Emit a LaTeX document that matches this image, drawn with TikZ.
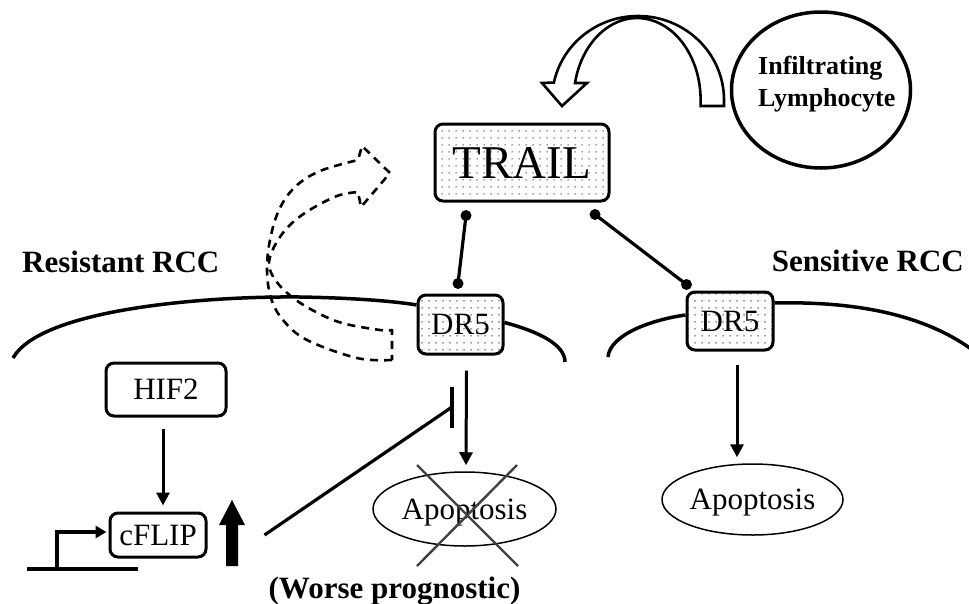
\documentclass[tikz,border=0pt]{standalone}
\usepackage{fontspec}
\setmainfont{Liberation Serif}
\usetikzlibrary{arrows.meta,patterns.meta,shapes.geometric,calc,backgrounds}
\begin{document}
\begin{tikzpicture}[x=1pt,y=-1pt,
  dotbox/.style={draw, line width=3pt, rounded corners=8pt, preaction={fill=white},
    pattern={Dots[distance=6.5pt, radius=0.8pt]}, pattern color=black!80,
    inner sep=0pt, font=\fontsize{31}{36}\selectfont},
  plainbox/.style={draw, line width=3pt, rounded corners=8pt, fill=white,
    inner sep=0pt, font=\fontsize{31}{36}\selectfont},
  apo/.style={ellipse, draw, line width=1.5pt, inner sep=0pt, text depth=0pt,
    font=\fontsize{31}{36}\selectfont},
  link/.style={line width=3.2pt},
  act/.style={line width=3pt, -{Triangle[length=13pt,width=13pt]}},
  memb/.style={line width=3.5pt},
  lbl/.style={font=\bfseries\fontsize{31}{36}\selectfont, inner sep=0pt},
  dashedarrow/.style={line width=2.6pt, dash pattern=on 8pt off 6pt, line join=round},
  cross/.style={line width=2.4pt, draw=black!75}
]
\useasboundingbox (0,0) rectangle (969,603);

% nodes
\node[dotbox, minimum width=174pt, minimum height=77pt, font=\fontsize{47}{52}\selectfont] (TRAIL) at (522,162.5) {TRAIL};
\node[dotbox, minimum width=85pt, minimum height=59pt] (DR5a) at (460.5,324.5) {DR5};
\node[dotbox, minimum width=86pt, minimum height=58pt] (DR5b) at (730,321) {DR5};
\node[plainbox, minimum width=120pt, minimum height=53pt] (HIF2) at (166,389.5) {HIF2};
\node[plainbox, minimum width=96pt, minimum height=44pt] (cFLIP) at (158,535) {cFLIP};
\node[apo, minimum width=183pt, minimum height=74pt] (apoL) at (464.5,509) {Apoptosis};
\node[apo, minimum width=181pt, minimum height=71pt] (apoR) at (752.5,499.5) {Apoptosis};
\node[ellipse, draw, line width=3.5pt, minimum width=179pt, minimum height=156pt, inner sep=0pt] (lymph) at (821,90) {};
\node[font=\bfseries\fontsize{26}{32}\selectfont, align=left, inner sep=0pt, anchor=north west] (lymphtxt) at (758,56) {Infiltrating\\Lymphocyte};

\node[lbl, anchor=base west] (resist) at (22,272) {Resistant RCC};
\node[lbl, anchor=base east] (sensit) at (964,271) {Sensitive RCC};
\node[lbl, anchor=base] (worse) at (394.5,598) {(Worse prognostic)};

% membranes
\begin{scope}[on background layer]
\draw[memb] (13,358) .. controls (40,310) and (200,296) .. (300,297)
   .. controls (360,298) and (400,302) .. ($(DR5a.west)+(0,-19.5)$);
\draw[memb] ($(DR5a.east)+(0,-2)$) .. controls (540,332) and (565,345) .. (565,362);
\draw[memb] (608,357) .. controls (610,335) and (650,320) .. ($(DR5b.west)+(0,-6)$);
\draw[memb] ($(DR5b.east)+(0,-18)$) .. controls (860,301) and (935,316) .. (985,360);
\end{scope}

% big hollow arrow from lymphocyte to TRAIL
\draw[line width=2.6pt, fill=white, line join=miter]
  (724,106) -- (724,100) arc[start angle=0, end angle=-168, x radius=86, y radius=84]
  -- (542,83) -- (562,106) -- (587,83) -- (575,83)
  arc[start angle=-168, end angle=0, x radius=63.5, y radius=82]
  -- ++(0,6) -- cycle;

% dashed hollow arrow (DR5 toward TRAIL)
\draw[dashedarrow]
  plot[smooth, tension=0.6] coordinates {(392,360) (357,358) (307,340) (283,320) (271,298) (267,270) (270,240) (279,210) (295,187) (320,171) (358,160)}
  -- (362,146) -- (390,173) -- (361,207) --
  plot[smooth, tension=0.6] coordinates {(358,192) (337,196) (308,211) (288,227) (274,247) (269,265) (276,281) (292,297) (314,311) (342,323) (380,330) (392,330)}
  -- cycle;

% TRAIL - DR5 binding lines
\coordinate (b1) at ($(TRAIL.south)+(-56,13)$);
\coordinate (b2) at ($(DR5a.north)+(-2.5,-10)$);
\coordinate (b3) at ($(TRAIL.south)+(73,12)$);
\coordinate (b4) at ($(DR5b.north west)+(1,-6)$);
\draw[link] (b1) -- (b2);
\draw[link] (b3) -- (b4);
\fill (b1) circle (5.5pt) (b2) circle (5.5pt) (b3) circle (5.5pt) (b4) circle (5.5pt);

% DR5 -> apoptosis
\draw[act] ($(DR5a.south)+(6,15)$) -- ($(apoL.north)+(1.5,-6)$);
\draw[act] ($(DR5b.south)+(7,13)$) -- ($(apoR.north)+(-15.5,-6)$);

% HIF2 -> cFLIP
\draw[act] ($(HIF2.south)+(-3,11)$) -- ($(cFLIP.north)+(5,-6)$);

% cFLIP inhibits
\coordinate (inh) at (452,407);
\draw[link] ($(cFLIP.east)+(57,0)$) -- (inh);
\draw[line width=3.5pt] ($(inh)+(0,-20.5)$) -- ($(inh)+(0,20.5)$);

% crossed apoptosis
\draw[cross] ($(apoL.center)+(-47.5,-44)$) -- ($(apoL.center)+(53.5,57)$);
\draw[cross] ($(apoL.center)+(52.5,-44)$) -- ($(apoL.center)+(-47.5,57)$);

% promoter
\coordinate (prom) at (57,569);
\draw[line width=3.5pt] (27,569) -- (138,569);
\draw[line width=3.5pt, -{Triangle[length=11pt,width=12pt]}] (prom) |- ($(cFLIP.west)+(-2,-3)$);

% up-regulation arrow
\fill (226,566) -- (226,525) -- (219,525) -- (232,500) -- (245,525) -- (238,525) -- (238,566) -- cycle;
\end{tikzpicture}
\end{document}
